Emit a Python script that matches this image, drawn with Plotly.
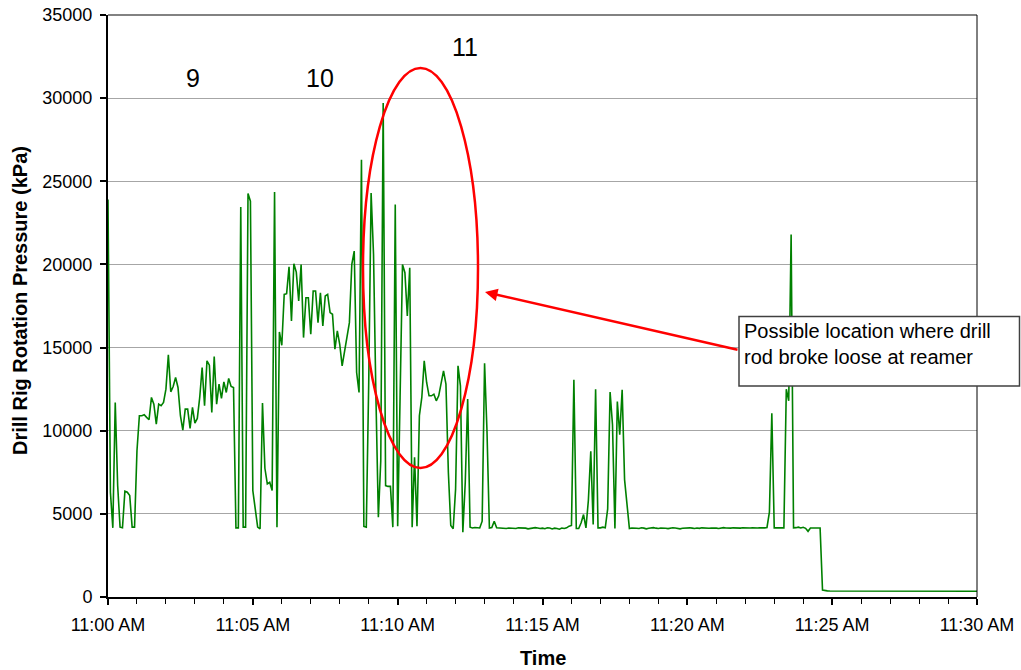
import pandas as pd
import plotly.graph_objects as go

# Drill rig rotation pressure (kPa), logged every 5 seconds from 11:00:00 to 11:30:00.
# One row per minute (12 samples).
pressure_kpa = [
    23900, 6300, 4160, 11700, 6700, 4200, 4160, 6360, 6300, 6100, 4200, 4200,        # 11:00
    8800, 10900, 10900, 10960, 10800, 10660, 12000, 11600, 10400, 11600, 11500, 11700,  # 11:01
    12500, 14560, 12340, 12660, 13200, 12600, 10900, 10040, 11300, 11300, 10140, 11400,  # 11:02
    10460, 10740, 12000, 13800, 11500, 14200, 13940, 11100, 14460, 11600, 12800, 11940,  # 11:03
    12940, 12300, 13140, 12660, 12600, 4160, 4160, 23460, 4200, 4200, 24260, 23800,   # 11:04
    6400, 5200, 4200, 4100, 11660, 7740, 6800, 6900, 6400, 24360, 4200, 15940,        # 11:05
    15140, 18200, 18240, 19860, 16600, 20040, 19540, 17800, 20000, 15600, 18000, 18000,  # 11:06
    15800, 18400, 18400, 16500, 18300, 16300, 18100, 18200, 17100, 17000, 14900, 16000,  # 11:07
    15200, 13900, 14800, 15500, 16500, 20000, 20800, 13500, 12300, 26300, 4250, 4200,   # 11:08
    12800, 24300, 20600, 12000, 4800, 8200, 29700, 6700, 6650, 6650, 4200, 23600,      # 11:09
    4250, 12000, 20000, 19500, 16900, 19800, 4200, 8400, 4250, 10900, 12000, 14200,    # 11:10
    12900, 12100, 12100, 12200, 11800, 12100, 12800, 13600, 12800, 7500, 4300, 4100,   # 11:11
    6500, 13900, 12700, 3900, 6900, 11900, 4200, 4150, 4180, 4160, 4150, 4560,         # 11:12
    14060, 10000, 4150, 4180, 4560, 4160, 4150, 4140, 4100, 4120, 4150, 4130,          # 11:13
    4100, 4120, 4160, 4150, 4170, 4140, 4100, 4130, 4160, 4170, 4150, 4120,            # 11:14
    4140, 4110, 4160, 4150, 4090, 4140, 4120, 4080, 4150, 4120, 4160, 4260,            # 11:15
    4300, 13060, 4120, 4120, 4460, 4960, 4160, 5800, 8760, 4360, 12500, 4160,          # 11:16
    4160, 4200, 4160, 5300, 12320, 10360, 4120, 11760, 9760, 12460, 7060, 5660,        # 11:17
    4120, 4150, 4160, 4130, 4120, 4160, 4140, 4100, 4130, 4150, 4170, 4140,            # 11:18
    4120, 4150, 4160, 4130, 4110, 4140, 4160, 4150, 4120, 4100, 4130, 4150,            # 11:19
    4170, 4160, 4140, 4120, 4150, 4130, 4160, 4140, 4110, 4130, 4150, 4160,            # 11:20
    4140, 4120, 4150, 4170, 4150, 4130, 4140, 4160, 4150, 4120, 4140, 4160,            # 11:21
    4150, 4130, 4150, 4160, 4140, 4150, 4160, 4150, 4160, 4180, 5100, 11050,           # 11:22
    4160, 4160, 4150, 4160, 4160, 12500, 11800, 21800, 4160, 4170, 4200, 4150,         # 11:23
    4190, 4130, 3950, 4150, 4160, 4160, 4160, 4150, 420, 380, 370, 360,                # 11:24
    360, 350, 360, 350, 350, 360, 350, 350, 360, 350, 350, 350,                        # 11:25
    350, 360, 350, 350, 350, 340, 350, 350, 350, 340, 350, 350,                        # 11:26
    350, 350, 340, 350, 350, 350, 350, 340, 350, 350, 350, 350,                        # 11:27
    350, 340, 350, 350, 360, 360, 350, 350, 350, 350, 340, 350,                        # 11:28
    350, 350, 350, 340, 350, 350, 350, 350, 350, 340, 350, 350,                        # 11:29
    350,                                                                               # 11:30
]
sample_times = pd.date_range("2000-01-01 11:00:00", periods=len(pressure_kpa), freq="5s")

y_ticks = [0, 5000, 10000, 15000, 20000, 25000, 30000, 35000]
rod_labels = ["9", "10", "11"]
callout_text = "Possible location where drill<br>rod broke loose at reamer"

W, H = 1021, 670
L, R, T, B = 108, 977, 15, 597   # plot-area edges in pixels


def px(x):
    return (x - L) / (R - L)


def py(y):
    return (B - y) / (B - T)


FONT = "Arial, 'Liberation Sans', sans-serif"

fig = go.Figure()
fig.add_trace(go.Scatter(
    x=sample_times, y=pressure_kpa, mode="lines",
    line=dict(color="#008000", width=1.6),
    hoverinfo="x+y", showlegend=False,
))

fig.update_layout(
    width=W, height=H,
    margin=dict(l=L, r=W - R, t=T, b=H - B, pad=0, autoexpand=False),
    paper_bgcolor="white", plot_bgcolor="white",
    font=dict(family=FONT, size=18, color="black"),
    showlegend=False,
)

fig.update_xaxes(
    type="date", automargin=False,
    range=[sample_times[0], sample_times[-1]],
    dtick=300000, tick0=sample_times[0], tickformat="%I:%M %p",
    ticks="outside", ticklen=6, tickwidth=1.5, tickcolor="black",
    minor=dict(dtick=60000, ticks="outside", ticklen=5, tickcolor="black", tickwidth=1),
    showline=True, linecolor="black", linewidth=2,
    showgrid=False, zeroline=False,
    tickfont=dict(size=18, color="black"),
    ticklabelstandoff=4,
)
fig.update_yaxes(
    automargin=False,
    range=[0, 35000], tickvals=y_ticks, tickformat="d",
    ticks="outside", ticklen=6, tickwidth=1.5, tickcolor="black",
    showline=True, linecolor="black", linewidth=2,
    showgrid=True, gridcolor="#a6a6a6", gridwidth=1,
    zeroline=False,
    tickfont=dict(size=18, color="black"),
    ticklabelstandoff=4,
)

shapes = [
    # top and right edges of the plot area
    dict(type="line", xref="paper", yref="paper", x0=0, x1=1, y0=1, y1=1,
         line=dict(color="#595959", width=1.5)),
    dict(type="line", xref="paper", yref="paper", x0=1, x1=1, y0=0, y1=1,
         line=dict(color="black", width=1)),
    # red ellipse around rod 11
    dict(type="circle", xref="paper", yref="paper",
         x0=px(363), x1=px(478), y0=py(468), y1=py(68),
         line=dict(color="#ff0000", width=2.5)),
    # callout box
    dict(type="rect", xref="paper", yref="paper",
         x0=px(739), x1=px(1019.5), y0=py(386), y1=py(316.5),
         fillcolor="white", line=dict(color="#404040", width=1.5)),
]
fig.update_layout(shapes=shapes)

annotations = [
    # axis titles
    dict(text="<b>Drill Rig Rotation Pressure (kPa)</b>", xref="paper", yref="paper",
         x=px(20), y=py(301), textangle=-90, showarrow=False,
         font=dict(size=20, color="black"), xanchor="center", yanchor="middle"),
    dict(text="<b>Time</b>", xref="paper", yref="paper",
         x=px(543), y=py(658), showarrow=False,
         font=dict(size=20, color="black"), xanchor="center", yanchor="middle"),
    # rod numbers
    dict(text=rod_labels[0], xref="paper", yref="paper", x=px(193), y=py(78),
         showarrow=False, font=dict(size=25, color="black"), xanchor="center", yanchor="middle"),
    dict(text=rod_labels[1], xref="paper", yref="paper", x=px(320), y=py(78),
         showarrow=False, font=dict(size=25, color="black"), xanchor="center", yanchor="middle"),
    dict(text=rod_labels[2], xref="paper", yref="paper", x=px(465), y=py(47),
         showarrow=False, font=dict(size=25, color="black"), xanchor="center", yanchor="middle"),
    # arrow from the callout to the ellipse
    dict(text="", xref="paper", yref="paper", x=px(485), y=py(292),
         ax=739 - 485, ay=350 - 292, axref="pixel", ayref="pixel",
         showarrow=True, arrowhead=2, arrowsize=1, arrowwidth=2.5,
         arrowcolor="#ff0000", standoff=0, startstandoff=0),
    # callout text
    dict(text=callout_text, xref="paper", yref="paper", x=px(742), y=py(344),
         showarrow=False, align="left", xanchor="left", yanchor="middle",
         font=dict(size=20, color="black")),
]
fig.update_layout(annotations=annotations)

fig.write_html("out.html")
